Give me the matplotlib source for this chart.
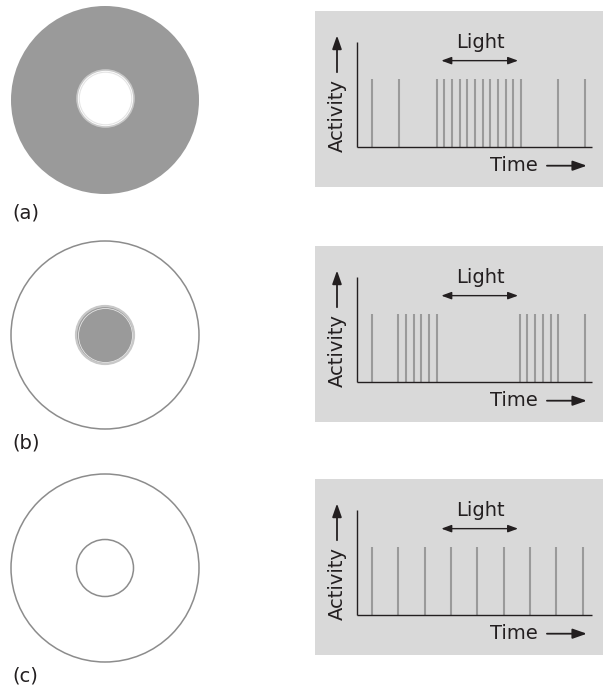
import matplotlib
matplotlib.use("Agg")
import matplotlib.pyplot as plt
from matplotlib.patches import Circle

# ---- data ----
panel_labels = ["(a)", "(b)", "(c)"]
# spike times (0 = y axis, 100 = end of time axis)
spikes_a = [6.4, 17.8, 33.8, 36.9, 40.2, 43.6, 46.9, 50.1, 53.4, 56.5, 59.8, 63.2, 66.5, 69.7, 85.6, 96.9]
spikes_b = [6.4, 17.5, 20.8, 24.1, 27.3, 30.7, 34.1, 69.3, 72.5, 75.8, 79.2, 82.5, 85.6, 96.9]
spikes_c = [6.4, 17.5, 28.7, 39.8, 51.0, 62.4, 73.6, 84.8, 96.1]
spike_sets = [spikes_a, spikes_b, spikes_c]
light_on, light_off = 35.8, 68.5
# receptive field: which zone is shaded (center / surround)
center_filled = [False, True, False]
surround_filled = [True, False, False]

W, H = 604, 687
box_tops = [11, 246, 479]
circle_cy = [100, 335, 568]
label_y = [213, 443, 676]

ink = "#231f20"
grey_fill = "#9a9a9a"
box_bg = "#d9d9d9"
spike_col = "#9a9a9a"

fig = plt.figure(figsize=(W / 100, H / 100), dpi=100)
fig.patch.set_facecolor("white")


def fig_rect(x0, y0, x1, y1):
    return [x0 / W, 1 - y1 / H, (x1 - x0) / W, (y1 - y0) / H]


for i in range(3):
    # ---- left: receptive field circles ----
    cy = circle_cy[i]
    axc = fig.add_axes(fig_rect(5, cy - 100, 205, cy + 100))
    axc.set_xlim(-100, 100)
    axc.set_ylim(-100, 100)
    axc.set_axis_off()
    r_out, r_in = 94, 28.5
    if surround_filled[i]:
        axc.add_patch(Circle((0, 0), r_out, facecolor=grey_fill, edgecolor="none"))
        axc.add_patch(Circle((0.5, 1.5), r_in, facecolor="white", edgecolor="#c8c8c8", lw=1.2))
        axc.add_patch(Circle((0.5, 1.5), r_in - 2.2, facecolor="white", edgecolor="#e4e4e4", lw=0.8))
    else:
        axc.add_patch(Circle((0, 0), r_out, facecolor="white", edgecolor="#8c8c8c", lw=1.1))
    if center_filled[i]:
        axc.add_patch(Circle((0, 0), r_in + 0.5, facecolor=grey_fill, edgecolor="#c8c8c8", lw=1.6))
        axc.add_patch(Circle((0.5, -0.5), r_in - 1.5, facecolor="none", edgecolor="#e6e6e6", lw=0.6))
    elif not surround_filled[i]:
        axc.add_patch(Circle((0, 0), r_in, facecolor="none", edgecolor="#8c8c8c", lw=1.1))

    fig.text(12 / W, 1 - label_y[i] / H, panel_labels[i], fontsize=14,
             color=ink, ha="left", va="center")

    # ---- right: spike train panel ----
    top = box_tops[i]
    ax = fig.add_axes(fig_rect(315, top, 603, top + 176))
    ax.set_facecolor(box_bg)
    # x: 0 at pixel 357.3, 100 at pixel 592; y: 0 at top+136, 1 at top+68
    px_per_t = (592 - 357.3) / 100
    ax.set_xlim((315 - 357.3) / px_per_t, (603 - 357.3) / px_per_t)
    ax.set_ylim(-40 / 68, 136 / 68)
    for s in ax.spines.values():
        s.set_visible(False)
    ax.set_xticks([])
    ax.set_yticks([])

    ax.vlines(spike_sets[i], 0, 1, color=spike_col, lw=1.5)
    ax.plot([0, 100], [0, 0], color=ink, lw=1.0, solid_capstyle="butt")
    ax.plot([0, 0], [0, 105 / 68], color=ink, lw=1.0, solid_capstyle="butt")

    # light period arrow
    ax.annotate("", xy=(light_off, 1.27), xytext=(light_on, 1.27),
                arrowprops=dict(arrowstyle="<|-|>,head_length=0.6,head_width=0.22",
                                color=ink, lw=1.0, shrinkA=0, shrinkB=0))
    ax.text((light_on + light_off) / 2 + 0.5, 1.53, "Light", fontsize=14,
            color=ink, ha="center", va="center")

    # axis labels with arrows
    ax.text(-8.65, 0.46, "Activity", fontsize=14, color=ink, rotation=90,
            ha="center", va="center")
    ax.annotate("", xy=(-8.65, 1.64), xytext=(-8.65, 1.10),
                arrowprops=dict(arrowstyle="-|>,head_length=0.8,head_width=0.28",
                                color=ink, lw=1.3, shrinkA=0, shrinkB=0))
    ax.text(66.8, -0.265, "Time", fontsize=14, color=ink, ha="center", va="center")
    ax.annotate("", xy=(97.8, -0.275), xytext=(80.8, -0.275),
                arrowprops=dict(arrowstyle="-|>,head_length=0.85,head_width=0.3",
                                color=ink, lw=1.3, shrinkA=0, shrinkB=0))

fig.savefig("out.png", dpi=100, facecolor="white")
